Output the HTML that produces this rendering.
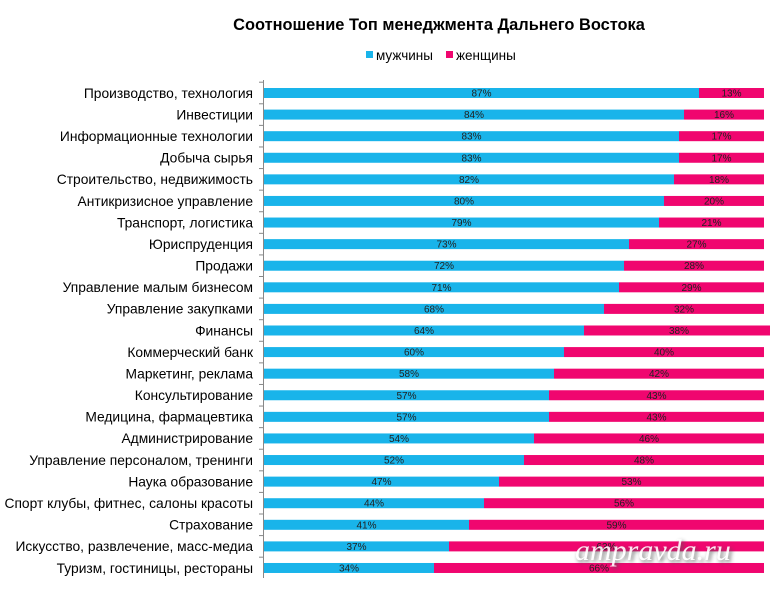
<!DOCTYPE html>
<html><head><meta charset="utf-8"><style>
html,body{margin:0;padding:0;background:#fff;}
svg{display:block;font-family:"Liberation Sans",Arial,sans-serif;}
</style></head><body>
<svg width="770" height="594" viewBox="0 0 770 594" xmlns="http://www.w3.org/2000/svg">
<text x="439" y="30" text-anchor="middle" font-size="16.4" font-weight="bold" fill="#000">Соотношение Топ менеджмента Дальнего Востока</text>
<rect x="366" y="51" width="7" height="7" fill="#19b4ea"/>
<text x="376" y="60" font-size="13.5" fill="#000">мужчины</text>
<rect x="446" y="51" width="7" height="7" fill="#f0066f"/>
<text x="456" y="60" font-size="13.5" fill="#000">женщины</text>
<line x1="263.5" y1="80" x2="263.5" y2="578" stroke="#888" stroke-width="1"/>
<g id="rows"></g>
<text x="575" y="560" font-size="30" font-style="italic" font-family="Liberation Serif,serif" fill="#fff" opacity="0.9" style="text-shadow:2px 2px 4px #555">ampravda.ru</text>
</svg>
<script>
var d=[["Производство, технология",87,13],["Инвестиции",84,16],["Информационные технологии",83,17],["Добыча сырья",83,17],["Строительство, недвижимость",82,18],["Антикризисное управление",80,20],["Транспорт, логистика",79,21],["Юриспруденция",73,27],["Продажи",72,28],["Управление малым бизнесом",71,29],["Управление закупками",68,32],["Финансы",64,38],["Коммерческий банк",60,40],["Маркетинг, реклама",58,42],["Консультирование",57,43],["Медицина, фармацевтика",57,43],["Администрирование",54,46],["Управление персоналом, тренинги",52,48],["Наука образование",47,53],["Спорт клубы, фитнес, салоны красоты",44,56],["Страхование",41,59],["Искусство, развлечение, масс-медиа",37,63],["Туризм, гостиницы, рестораны",34,66]];
var s="",W=5.0,x0=264;
for(var i=0;i<d.length;i++){var y=88+i*21.59;var m=d[i][1]*W,f=Math.min(d[i][2]*W,770-x0-m);
s+='<text x="253" y="'+(y+9.8)+'" text-anchor="end" font-size="13.8" fill="#000">'+d[i][0]+'</text>';
s+='<line x1="259" y1="'+(y-5.8)+'" x2="264" y2="'+(y-5.8)+'" stroke="#888"/>';
s+='<rect x="'+x0+'" y="'+y+'" width="'+m+'" height="10" fill="#19b4ea"/>';
s+='<rect x="'+(x0+m)+'" y="'+y+'" width="'+f+'" height="10" fill="#f0066f"/>';
s+='<text x="'+(x0+m/2)+'" y="'+(y+8.5)+'" text-anchor="middle" font-size="10" fill="#222">'+d[i][1]+'%</text>';
s+='<text x="'+(x0+m+d[i][2]*W/2)+'" y="'+(y+8.5)+'" text-anchor="middle" font-size="10" fill="#222">'+d[i][2]+'%</text>';}
document.getElementById("rows").innerHTML=s;
</script>
</body></html>
